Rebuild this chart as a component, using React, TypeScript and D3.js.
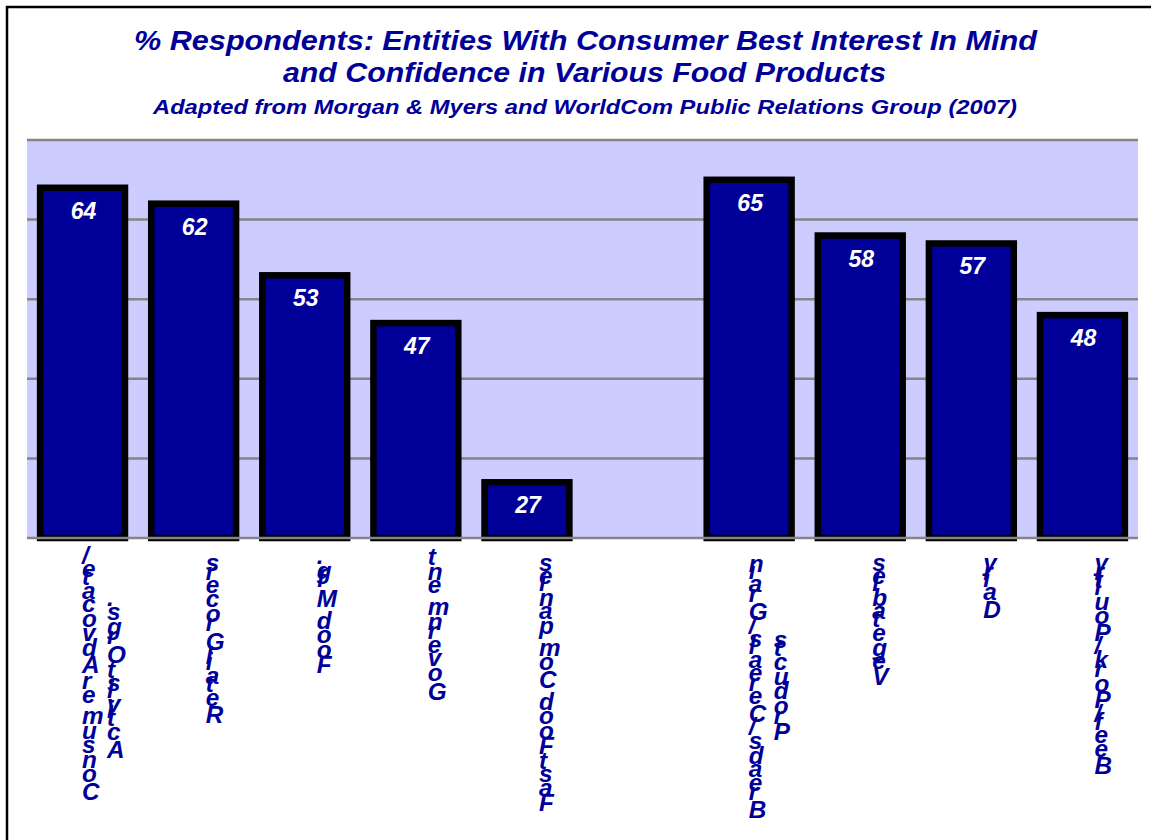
import React, { useMemo } from "react";
import * as d3 from "d3";

const categories = [
  "Consumer Advocate/ Activist Orgs.",
  "Retail Grocers",
  "Food Mfg.",
  "Government",
  "Fast Food Companies",
  "(blank)",
  "Breads/ Cereals/ Grain Products",
  "Vegetables",
  "Dairy",
  "Beef/ Pork/ Poultry",
];
const categoryLines: string[][] = [
  ["Consumer Advocate/", "Activist Orgs."],
  ["Retail Grocers"],
  ["Food Mfg."],
  ["Government"],
  ["Fast Food Companies"],
  [],
  ["Breads/ Cereals/ Grain", "Products"],
  ["Vegetables"],
  ["Dairy"],
  ["Beef/ Pork/ Poultry"],
];
const values: (number | null)[] = [64, 62, 53, 47, 27, null, 65, 58, 57, 48];
const yTicks = [20, 30, 40, 50, 60, 70];
const titleLines = [
  "% Respondents:  Entities With Consumer Best Interest In Mind",
  "and Confidence in Various Food Products",
];
const subtitle = "Adapted from Morgan & Myers and WorldCom Public Relations Group (2007)";

const W = 1151;
const H = 840;
const FONT = '"Liberation Sans", Arial, sans-serif';
const NAVY = "#000099";
const LABEL_SIZE = 24.3;

let ctx: CanvasRenderingContext2D | null = null;
function charWidth(ch: string): number {
  if (!ctx) {
    const c = document.createElement("canvas");
    ctx = c.getContext("2d");
  }
  if (!ctx) return LABEL_SIZE * 0.55;
  ctx.font = `italic bold ${LABEL_SIZE}px "Liberation Sans", Arial, sans-serif`;
  return ctx.measureText(ch).width;
}

export default function App() {
  const x = d3
    .scaleBand<string>()
    .domain(categories)
    .range([27, 1138])
    .paddingInner(0.236)
    .paddingOuter(0.118);
  const y = d3.scaleLinear().domain([20, 70]).range([538, 140]);

  const labelTop = 557;

  const labelGlyphs = useMemo(() => {
    const out: { ch: string; x: number; y: number; key: string }[] = [];
    categories.forEach((cat, ci) => {
      const lines = categoryLines[ci];
      if (!lines.length) return;
      const center = (x(cat) as number) + x.bandwidth() / 2;
      const lineWidths = lines.map((l) => l.split("").map(charWidth));
      const totals = lineWidths.map((ws) => ws.reduce((a, b) => a + b, 0));
      const maxW = Math.max(...totals);
      const n = lines.length;
      lines.forEach((line, li) => {
        const lx = center + 12 + (li - (n - 1) / 2) * 25;
        const off = (maxW - totals[li]) / 2;
        const ws = lineWidths[li];
        let acc = 0;
        for (let i = line.length - 1; i >= 0; i--) {
          acc += ws[i];
          const ch = line[i];
          if (ch !== " ") {
            out.push({ ch, x: lx, y: labelTop + off + acc, key: `${ci}-${li}-${i}` });
          }
        }
      });
    });
    return out;
  }, []);

  return (
    <svg
      width={W}
      height={H}
      style={{ position: "absolute", left: 0, top: 0, background: "#fff" }}
      fontFamily={FONT}
    >
      <rect x={0} y={0} width={W} height={H} fill="#fff" />
      {/* outer frame */}
      <rect x={7} y={7} width={W + 20} height={H + 20} fill="none" stroke="#000" strokeWidth={2.5} />

      {/* titles */}
      <text x={585.5} y={50} textAnchor="middle" fontSize={28} fontWeight="bold" fontStyle="italic" fill={NAVY}
        textLength={903} lengthAdjust="spacingAndGlyphs">{titleLines[0]}</text>
      <text x={584.5} y={82} textAnchor="middle" fontSize={28} fontWeight="bold" fontStyle="italic" fill={NAVY}
        textLength={603} lengthAdjust="spacingAndGlyphs">{titleLines[1]}</text>
      <text x={585} y={113.5} textAnchor="middle" fontSize={21} fontWeight="bold" fontStyle="italic" fill={NAVY}
        textLength={864} lengthAdjust="spacingAndGlyphs">{subtitle}</text>

      {/* plot background */}
      <rect x={27} y={y(70)} width={1138 - 27} height={y(20) - y(70)} fill="#CCCCFF" />

      {/* gridlines */}
      {yTicks.slice(1).map((t) => (
        <line key={t} x1={27} x2={1138} y1={y(t)} y2={y(t)} stroke="#858585" strokeWidth={2.5} />
      ))}

      {/* bars */}
      {categories.map((cat, i) => {
        const v = values[i];
        if (v == null) return null;
        const bx = x(cat) as number;
        const top = y(v);
        return (
          <g key={cat}>
            <rect x={bx} y={top} width={x.bandwidth()} height={y(20) - top} fill={NAVY} stroke="#000" strokeWidth={6.5} />
            <text x={bx + x.bandwidth() / 2 + 1} y={top + 31} textAnchor="middle" fontSize={23} fontWeight="bold"
              fontStyle="italic" fill="#fff">{v}</text>
          </g>
        );
      })}

      {/* baseline */}
      <line x1={27} x2={1138} y1={y(20)} y2={y(20)} stroke="#858585" strokeWidth={2.5} />

      {/* category labels (stacked glyphs) */}
      {labelGlyphs.map((g) => (
        <text key={g.key} x={g.x} y={g.y} fontSize={LABEL_SIZE} fontWeight="bold" fontStyle="italic" fill={NAVY}>
          {g.ch}
        </text>
      ))}
    </svg>
  );
}
